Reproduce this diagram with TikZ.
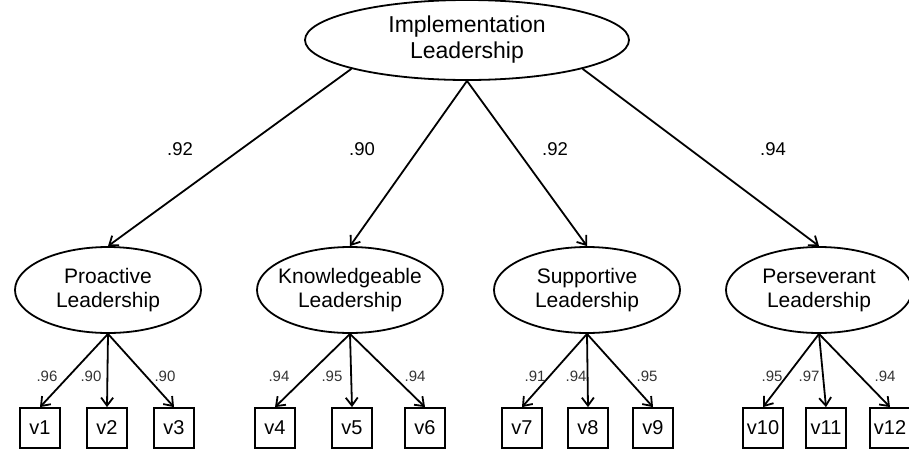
\documentclass[tikz,border=0pt]{standalone}
\usepackage{fontspec}
\setmainfont{Liberation Sans}
\usetikzlibrary{shapes.geometric, arrows.meta}

\tikzset{
  latent/.style={ellipse, draw, line width=1.8pt, inner sep=0pt, inner xsep=-12pt,
    minimum width=186pt, minimum height=86pt, align=center,
    font=\fontsize{21}{24}\selectfont},
  observed/.style={rectangle, draw, line width=1.8pt, minimum size=40pt, inner sep=0pt,
    font=\fontsize{20}{24}\selectfont},
  loading/.style={line width=1.8pt, -{Straight Barb[length=8pt, width=12pt, line width=1.8pt]}},
  bigweight/.style={font=\fontsize{18.5}{20}\selectfont},
  smallweight/.style={font=\fontsize{15}{18}\selectfont, text=black!80}
}

\begin{document}
\begin{tikzpicture}[x=1pt, y=-1pt]
\useasboundingbox (0,0) rectangle (909,450);

% second-order factor
\node[latent, minimum width=324pt, minimum height=80pt, font=\fontsize{23}{26}\selectfont]
  (impl) at (467,40) {Implementation\\Leadership};

% first-order factors
\node[latent] (pro) at (108,290) {Proactive\\Leadership};
\node[latent] (kno) at (350,290) {Knowledgeable\\Leadership};
\node[latent] (sup) at (587,290) {Supportive\\Leadership};
\node[latent] (per) at (819,290) {Perseverant\\Leadership};

\draw[loading] (impl.194) -- (pro.north);
\draw[loading] (impl.south) -- (kno.north);
\draw[loading] (impl.south) -- (sup.north);
\draw[loading] (impl.346) -- (per.north);

\node[bigweight] (wpro) at (180,149) {.92};
\node[bigweight] (wkno) at (362,149) {.90};
\node[bigweight] (wsup) at (555,149) {.92};
\node[bigweight] (wper) at (773,149) {.94};

% indicators
\node[observed] (v1) at (40,428) {v1};
\node[observed] (v2) at (107,428) {v2};
\node[observed] (v3) at (174,428) {v3};
\node[observed] (v4) at (275,428) {v4};
\node[observed] (v5) at (352,428) {v5};
\node[observed] (v6) at (425,428) {v6};
\node[observed] (v7) at (522,428) {v7};
\node[observed] (v8) at (588,428) {v8};
\node[observed] (v9) at (653,428) {v9};
\node[observed] (v10) at (763,428) {v10};
\node[observed] (v11) at (826,428) {v11};
\node[observed] (v12) at (890,428) {v12};

\draw[loading] (pro.south) -- (v1.north);
\draw[loading] (pro.south) -- (v2.north);
\draw[loading] (pro.south) -- (v3.north);
\draw[loading] (kno.south) -- (v4.north);
\draw[loading] (kno.south) -- (v5.north);
\draw[loading] (kno.south) -- (v6.north);
\draw[loading] (sup.south) -- (v7.north);
\draw[loading] (sup.south) -- (v8.north);
\draw[loading] (sup.south) -- (v9.north);
\draw[loading] (per.south) -- (v10.north);
\draw[loading] (per.south) -- (v11.north);
\draw[loading] (per.south) -- (v12.north);

\node[smallweight] (w1) at (47,376) {.96};
\node[smallweight] (w2) at (91,376) {.90};
\node[smallweight] (w3) at (165,376) {.90};
\node[smallweight] (w4) at (279,376) {.94};
\node[smallweight] (w5) at (332,376) {.95};
\node[smallweight] (w6) at (415,376) {.94};
\node[smallweight] (w7) at (535,376) {.91};
\node[smallweight] (w8) at (576,376) {.94};
\node[smallweight] (w9) at (647,376) {.95};
\node[smallweight] (w10) at (772,376) {.95};
\node[smallweight] (w11) at (809,376) {.97};
\node[smallweight] (w12) at (885,376) {.94};
\end{tikzpicture}
\end{document}
